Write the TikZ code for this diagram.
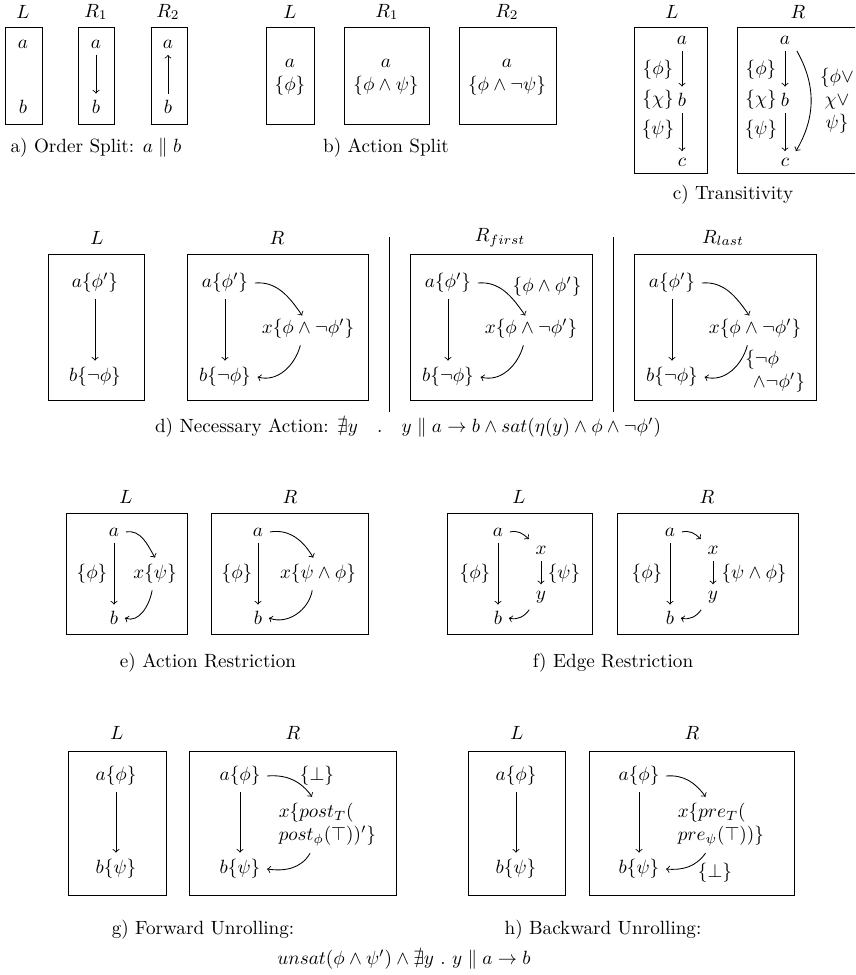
\documentclass[tikz,border=0pt]{standalone}
\usepackage{amssymb}
\tikzset{
  nd/.style={inner sep=3.33pt},
  lb/.style={inner sep=1pt},
  frm/.style={draw=black, line width=0.5pt},
  arr/.style={->, line width=0.45pt},
  sepl/.style={line width=0.5pt},
}
\begin{document}
\begin{tikzpicture}[x=0.522pt,y=0.522pt]
\useasboundingbox (0,0) rectangle (855,-975);
\clip (0,0) rectangle (855,-975);

% ---------- a) Order split
\node (ta1) at (23,-12) {$L$};
\node (ta2) at (96,-12) {$R_1$};
\node (ta3) at (168,-12) {$R_2$};
\draw[frm] (5,-27) rectangle (42,-124);
\draw[frm] (78,-27) rectangle (114,-124);
\draw[frm] (151,-27) rectangle (187,-124);
\node[nd] (a0a) at (23,-44) {$a$};
\node[nd] (a0b) at (23,-107) {$b$};
\node[nd] (a1a) at (96,-44) {$a$};
\node[nd] (a1b) at (96,-107) {$b$};
\node[nd] (a2a) at (168,-44) {$a$};
\node[nd] (a2b) at (168,-107) {$b$};
\draw[arr] (a1a) -- (a1b);
\draw[arr] (a2b) -- (a2a);
\node (capa) at (96,-148) {a) Order Split: $a\parallel b$};

% ---------- b) Action split
\node (tb1) at (290,-12) {$L$};
\node (tb2) at (387,-12) {$R_1$};
\node (tb3) at (507,-12) {$R_2$};
\draw[frm] (266,-27) rectangle (314,-124);
\draw[frm] (344,-27) rectangle (429,-124);
\draw[frm] (459,-27) rectangle (556,-124);
\node (b0a) at (290,-63) {$a$};
\node (b0p) at (290,-86) {$\{\phi\}$};
\node (b1a) at (386,-63) {$a$};
\node (b1p) at (386,-86) {$\{\phi\wedge\psi\}$};
\node (b2a) at (507,-63) {$a$};
\node (b2p) at (507,-86) {$\{\phi\wedge\neg\psi\}$};
\node (capb) at (386,-148) {b) Action Split};

% ---------- c) Transitivity
\node (tc1) at (672,-12) {$L$};
\node (tc2) at (798,-12) {$R$};
\draw[frm] (634,-27) rectangle (707,-173);
\draw[frm] (737,-27) rectangle (870,-173);
\node[nd] (c0a) at (682,-40) {$a$};
\node[nd] (c0b) at (682,-100) {$b$};
\node[nd] (c0c) at (682,-162) {$c$};
\draw[arr] (c0a) -- (c0b);
\draw[arr] (c0b) -- (c0c);
\node[lb] (c0l1) at (658,-70) {$\{\phi\}$};
\node[lb] (c0l2) at (658,-100) {$\{\chi\}$};
\node[lb] (c0l3) at (658,-130) {$\{\psi\}$};
\node[nd] (c1a) at (785,-40) {$a$};
\node[nd] (c1b) at (785,-100) {$b$};
\node[nd] (c1c) at (785,-162) {$c$};
\draw[arr] (c1a) -- (c1b);
\draw[arr] (c1b) -- (c1c);
\node[lb] (c1l1) at (761,-70) {$\{\phi\}$};
\node[lb] (c1l2) at (761,-100) {$\{\chi\}$};
\node[lb] (c1l3) at (761,-130) {$\{\psi\}$};
\draw[arr] (c1a.south east) to[bend left=30] (c1c.north east);
\node[lb, align=center] (c1l) at (837,-101) {$\{\phi\vee$\\$\chi\vee$\\$\psi\}$};
\node (capc) at (733,-195) {c) Transitivity};

% ---------- d) Necessary action
\node (td1) at (97,-238) {$L$};
\node (td2) at (277,-238) {$R$};
\node (td3) at (500,-238) {$R_{first}$};
\node (td4) at (723,-238) {$R_{last}$};
\draw[sepl] (389,-237) -- (389,-412);
\draw[sepl] (613,-237) -- (613,-412);
\draw[frm] (48,-254) rectangle (144,-400);
\draw[frm] (187,-254) rectangle (368,-400);
\draw[frm] (410,-254) rectangle (592,-400);
\draw[frm] (634,-254) rectangle (816,-400);
% L
\node[nd] (d0a) at (95,-283) {$a\{\phi'\}$};
\node[nd] (d0b) at (95,-377) {$b\{\neg\phi\}$};
\draw[arr] (d0a) -- (d0b);
% R
\node[nd] (d1a) at (225,-283) {$a\{\phi'\}$};
\node[nd] (d1b) at (225,-377) {$b\{\neg\phi\}$};
\node[nd] (d1x) at (308,-329) {$x\{\phi\wedge\neg\phi'\}$};
\draw[arr] (d1a) -- (d1b);
\draw[arr] (d1a.east) to[out=5,in=125] ([shift={(-3pt,-1.5pt)}]d1x.north);
\draw[arr] ([xshift=-4pt]d1x.south) to[out=-105,in=-15] (d1b.east);
% R first
\node[nd] (d2a) at (448,-283) {$a\{\phi'\}$};
\node[nd] (d2b) at (448,-377) {$b\{\neg\phi\}$};
\node[nd] (d2x) at (531,-329) {$x\{\phi\wedge\neg\phi'\}$};
\draw[arr] (d2a) -- (d2b);
\draw[arr] (d2a.east) to[out=5,in=125] ([shift={(-3pt,-1.5pt)}]d2x.north);
\draw[arr] ([xshift=-4pt]d2x.south) to[out=-105,in=-15] (d2b.east);
\node[lb] (d2l) at (547,-287) {$\{\phi\wedge\phi'\}$};
% R last
\node[nd] (d3a) at (672,-283) {$a\{\phi'\}$};
\node[nd] (d3b) at (672,-377) {$b\{\neg\phi\}$};
\node[nd] (d3x) at (755,-329) {$x\{\phi\wedge\neg\phi'\}$};
\draw[arr] (d3a) -- (d3b);
\draw[arr] (d3a.east) to[out=5,in=125] ([shift={(-3pt,-1.5pt)}]d3x.north);
\draw[arr] ([xshift=-4pt]d3x.south) to[out=-105,in=-15] (d3b.east);
\node[lb, align=left, anchor=west] (d3l) at (743,-371) {$\{\neg\phi$\\\hspace*{4pt}$\wedge\neg\phi'\}$};
\node (capd) at (408,-428) {d) Necessary Action: $\nexists y\quad.\quad y\parallel a\rightarrow b\wedge sat(\eta(y)\wedge\phi\wedge\neg\phi')$};

% ---------- e) Action restriction
\node (te1) at (126,-497) {$L$};
\node (te2) at (290,-497) {$R$};
\draw[frm] (66,-513) rectangle (187,-634);
\draw[frm] (211,-513) rectangle (368,-634);
\node[nd] (e0a) at (114,-532) {$a$};
\node[nd] (e0b) at (114,-618) {$b$};
\node[nd] (e0x) at (155,-574) {$x\{\psi\}$};
\node[lb] (e0l) at (92,-574) {$\{\phi\}$};
\draw[arr] (e0a) -- (e0b);
\draw[arr] (e0a.east) to[out=10,in=120] (e0x.north);
\draw[arr] ([xshift=-1.5pt]e0x.south) to[out=-100,in=-20] (e0b.east);
\node[nd] (e1a) at (258,-532) {$a$};
\node[nd] (e1b) at (258,-618) {$b$};
\node[nd] (e1x) at (318,-574) {$x\{\psi\wedge\phi\}$};
\node[lb] (e1l) at (237,-574) {$\{\phi\}$};
\draw[arr] (e1a) -- (e1b);
\draw[arr] (e1a.east) to[out=10,in=120] ([xshift=-2.5pt]e1x.north);
\draw[arr] ([xshift=-3pt]e1x.south) to[out=-100,in=-20] (e1b.east);
\node (cape) at (208,-663) {e) Action Restriction};

% ---------- f) Edge restriction
\node (tf1) at (519,-497) {$L$};
\node (tf2) at (707,-497) {$R$};
\draw[frm] (447,-513) rectangle (592,-634);
\draw[frm] (617,-513) rectangle (798,-634);
\node[nd] (f0a) at (498,-532) {$a$};
\node[nd] (f0b) at (498,-618) {$b$};
\node[nd] (f0x) at (541,-550) {$x$};
\node[nd] (f0y) at (541,-597) {$y$};
\node[lb] (f0l1) at (475,-574) {$\{\phi\}$};
\node[lb] (f0l2) at (564,-574) {$\{\psi\}$};
\draw[arr] (f0a) -- (f0b);
\draw[arr] (f0x) -- (f0y);
\draw[arr] (f0a.east) to[out=15,in=135] (f0x.north west);
\draw[arr] (f0y.south west) to[out=-125,in=-15] (f0b.east);
\node[nd] (f1a) at (670,-532) {$a$};
\node[nd] (f1b) at (670,-618) {$b$};
\node[nd] (f1x) at (713,-550) {$x$};
\node[nd] (f1y) at (713,-597) {$y$};
\node[lb] (f1l1) at (647,-574) {$\{\phi\}$};
\node[lb] (f1l2) at (754,-574) {$\{\psi\wedge\phi\}$};
\draw[arr] (f1a) -- (f1b);
\draw[arr] (f1x) -- (f1y);
\draw[arr] (f1a.east) to[out=15,in=135] (f1x.north west);
\draw[arr] (f1y.south west) to[out=-125,in=-15] (f1b.east);
\node (capf) at (613,-663) {f) Edge Restriction};

% ---------- g) Forward unrolling
\node (tg1) at (117,-733) {$L$};
\node (tg2) at (293,-733) {$R$};
\draw[frm] (68,-751) rectangle (166,-895);
\draw[frm] (189,-751) rectangle (396,-895);
\node[nd] (g0a) at (116,-776) {$a\{\phi\}$};
\node[nd] (g0b) at (116,-869) {$b\{\psi\}$};
\draw[arr] (g0a) -- (g0b);
\node[nd] (g1a) at (240,-776) {$a\{\phi\}$};
\node[nd] (g1b) at (240,-869) {$b\{\psi\}$};
\node[nd, align=left, anchor=west] (g1x) at (272,-825) {$x\{post_T($\\$post_\phi(\top))'\}$};
\node[lb] (g1l) at (317,-776) {$\{\bot\}$};
\draw[arr] (g1a) -- (g1b);
\draw[arr] (g1a.east) to[out=5,in=125] ([xshift=-8pt]g1x.north);
\draw[arr] ([xshift=-9pt]g1x.south) to[out=-120,in=-8] (g1b.east);
\node (capg) at (203,-930) {g) Forward Unrolling:};

% ---------- h) Backward unrolling
\node (th1) at (517,-733) {$L$};
\node (th2) at (692,-733) {$R$};
\draw[frm] (468,-751) rectangle (565,-895);
\draw[frm] (589,-751) rectangle (794,-895);
\node[nd] (h0a) at (516,-776) {$a\{\phi\}$};
\node[nd] (h0b) at (516,-869) {$b\{\psi\}$};
\draw[arr] (h0a) -- (h0b);
\node[nd] (h1a) at (639,-776) {$a\{\phi\}$};
\node[nd] (h1b) at (639,-869) {$b\{\psi\}$};
\node[nd, align=left, anchor=west] (h1x) at (671,-825) {$x\{pre_T($\\$pre_\psi(\top))\}$};
\node[lb] (h1l) at (715,-873) {$\{\bot\}$};
\draw[arr] (h1a) -- (h1b);
\draw[arr] (h1a.east) to[out=5,in=125] ([xshift=-8pt]h1x.north);
\draw[arr] ([xshift=-8pt]h1x.south) to[out=-125,in=-5] (h1b.east);
\node (caph) at (603,-930) {h) Backward Unrolling:};

\node (capgh) at (404,-960) {$unsat(\phi\wedge\psi')\wedge\nexists y\ .\ y\parallel a\rightarrow b$};
\end{tikzpicture}
\end{document}
